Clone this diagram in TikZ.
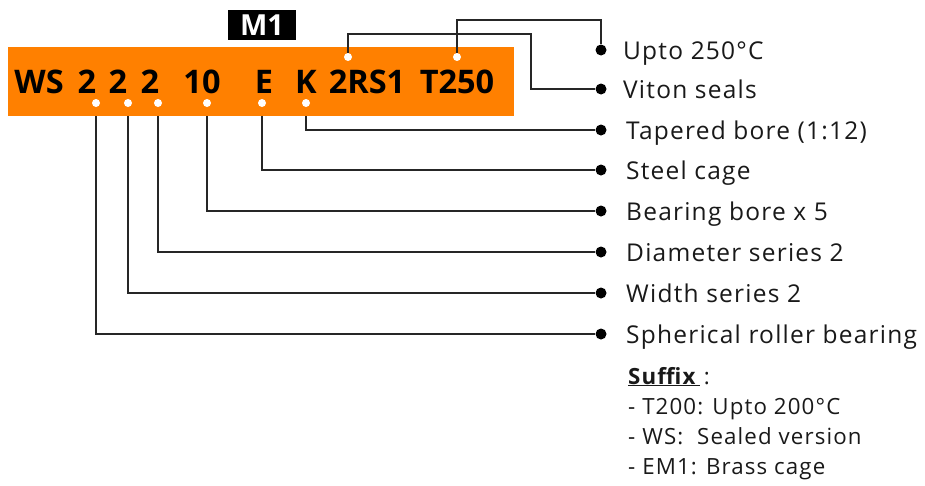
\documentclass[tikz,border=0pt]{standalone}
\usepackage{fontspec}
\setmainfont{Open Sans}
\newfontfamily\labfont[LetterSpace=5]{Open Sans}
\definecolor{codeorange}{RGB}{255,128,0}
\definecolor{txt}{RGB}{25,25,25}
\tikzset{
  code/.style={anchor=base,inner sep=0pt,font=\fontsize{32.5}{36}\selectfont\bfseries,text=black},
  wdot/.style={circle,fill=white,inner sep=0pt,minimum size=8},
  bdot/.style={circle,fill=black,inner sep=0pt,minimum size=11},
  lab/.style={anchor=base west,inner sep=0pt,font=\fontsize{24.5}{27}\labfont,text=txt},
  suf/.style={anchor=base west,inner sep=0pt,font=\fontsize{22.3}{24}\labfont,text=txt},
  conn/.style={draw=black!85,line width=1.3}
}
\begin{document}
\begin{tikzpicture}[x=1pt,y=-1pt]
\useasboundingbox (0,0) rectangle (925,485);
% header
\node[fill=black,minimum width=68,minimum height=30,inner sep=0pt,text=white,font=\fontsize{29}{30}\selectfont\bfseries] (m1) at (262,25) {M1};
\node[fill=codeorange,minimum width=506,minimum height=69,inner sep=0pt] (box) at (261,81.5) {};
% code characters
\node[code] (cWS) at (39,93) {WS};
\node[code] (c1) at (87,93) {2};
\node[code] (c2) at (118,93) {2};
\node[code] (c3) at (150,93) {2};
\node[code] (c10) at (202,93) {10};
\node[code] (cE) at (264,93) {E};
\node[code] (cK) at (306,93) {K};
\node[code] (cRS) at (367,93) {2RS1};
\node[code] (cT) at (457,93) {T250};
% right dots
\node[bdot] (dUp) at (601,50) {};
\node[bdot] (dVit) at (601,89) {};
\node[bdot] (dTap) at (601,130) {};
\node[bdot] (dSteel) at (601,170) {};
\node[bdot] (dBore) at (601,211) {};
\node[bdot] (dDia) at (601,252) {};
\node[bdot] (dWid) at (601,293) {};
\node[bdot] (dSph) at (601,334) {};
% labels
\node[lab] (lUp) at (623,59) {Upto 250°C};
\node[lab] (lVit) at (623,98) {Viton seals};
\node[lab] (lTap) at (626,139) {Tapered bore (1:12)};
\node[lab] (lSteel) at (626,179) {Steel cage};
\node[lab] (lBore) at (626,220) {Bearing bore x 5};
\node[lab] (lDia) at (626,261) {Diameter series 2};
\node[lab] (lWid) at (626,302) {Width series 2};
\node[lab] (lSph) at (626,343) {Spherical roller bearing};
% connector corner points
\coordinate (kRS) at (531,34);
\coordinate (kT) at (601,20);
% white dots
\node[wdot] (wRS) at (348,57) {};
\node[wdot] (wT) at (457,57) {};
\node[wdot] (w1) at (96,103) {};
\node[wdot] (w2) at (128,103) {};
\node[wdot] (w3) at (158,103) {};
\node[wdot] (w10) at (207,103) {};
\node[wdot] (wE) at (262,103) {};
\node[wdot] (wK) at (306,103) {};
% connectors
\draw[conn] (wRS.north) |- (kRS) |- (dVit);
\draw[conn] (wT.north) |- (kT) -- (dUp);
\draw[conn] (wK |- box.south) |- (dTap);
\draw[conn] (wE |- box.south) |- (dSteel);
\draw[conn] (w10 |- box.south) |- (dBore);
\draw[conn] (w3 |- box.south) |- (dDia);
\draw[conn] (w2 |- box.south) |- (dWid);
\draw[conn] (w1 |- box.south) |- (dSph);
% suffix
\node[suf] (sHead) at (628,384) {\underline{\textbf{Suffix}\,}\,:};
\node[suf] (s1) at (628,414) {- T200: Upto 200°C};
\node[suf] (s2) at (628,444) {- WS:\ \ Sealed version};
\node[suf] (s3) at (628,474) {- EM1: Brass cage};
\end{tikzpicture}
\end{document}
